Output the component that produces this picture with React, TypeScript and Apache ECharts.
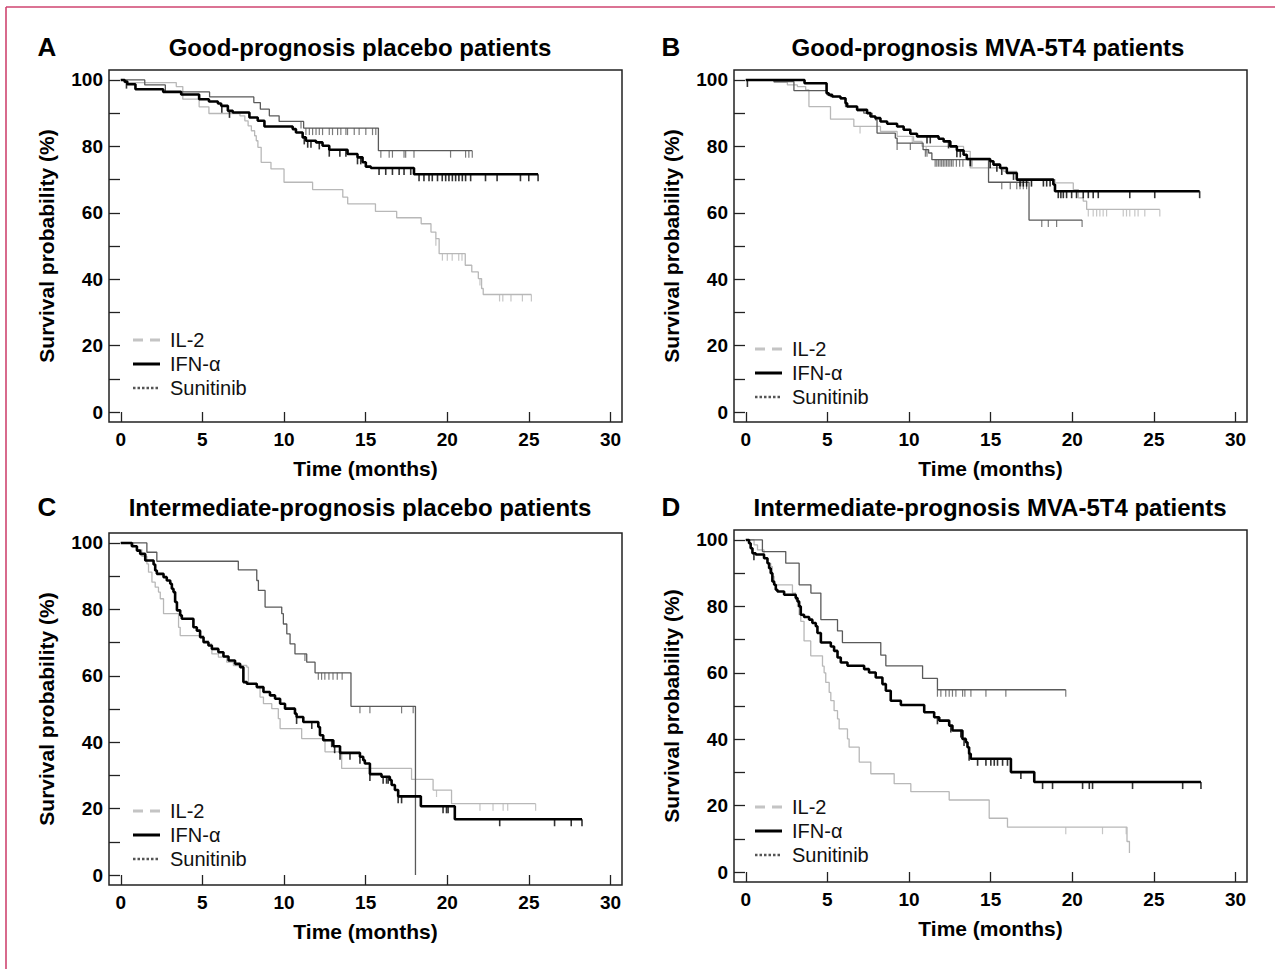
import React, { useEffect, useRef } from "react";
import * as echarts from "echarts";

// ---------- DATA (months, survival %) ----------
const xTicks = [0, 5, 10, 15, 20, 25, 30];
const yTicks = [0, 10, 20, 30, 40, 50, 60, 70, 80, 90, 100];
const yLabels = [0, 20, 40, 60, 80, 100];
const seriesNames = ["IL-2", "IFN-α", "Sunitinib"];
const panelLetters = ["A", "B", "C", "D"];
const panelTitles = [
  "Good-prognosis placebo patients",
  "Good-prognosis MVA-5T4 patients",
  "Intermediate-prognosis placebo patients",
  "Intermediate-prognosis MVA-5T4 patients",
];

// Panel A
const aIL2 = [[0,100],[0.2,99.2],[3.4,98],[3.8,94.2],[4.8,91.9],[5.4,89.9],[7.3,89.2],[7.6,87.7],[7.8,86.2],[8.0,84.7],[8.2,83.2],[8.3,81.7],[8.4,79.7],[8.6,75.2],[9.2,73.2],[10.0,69.2],[11.75,67],[13.6,64.7],[13.9,62.7],[15.6,60.4],[16.9,58.5],[18.4,56.7],[19.0,54.2],[19.3,52.2],[19.5,47.7],[21.1,44.2],[21.5,42.2],[21.9,40.2],[22.1,37.2],[22.2,35.4],[25.15,35.4]];
const aIL2Cens = [19.3, 19.7, 20.0, 20.3, 20.7, 20.9, 22.0, 23.2, 23.4, 23.9, 24.6, 25.15];
const aIFN = [[0,100],[0.24,99.5],[0.4,98.7],[0.9,97.2],[2.6,96.4],[3.7,95.6],[4.8,94.2],[5.4,93.5],[5.95,92.9],[6.15,92.2],[6.56,90.7],[6.86,90.2],[7.88,88.7],[8.39,87.7],[8.8,86],[10.53,85.2],[10.73,84.2],[11.14,82.7],[11.34,81.7],[11.96,81.2],[12.36,80.2],[12.77,79],[13.89,77.7],[14.5,76.7],[14.81,75.2],[15.01,73.9],[15.32,73.5],[17.96,71.6],[25.56,71.6]];
const aIFNCens = [0.35, 6.19, 6.66, 11.24, 11.45, 11.65, 12.16, 12.77, 13.42, 13.79, 14.5, 14.7, 15.82, 16.23, 16.64, 17.05, 17.35, 17.76, 18.27, 18.57, 18.88, 19.08, 19.4, 19.69, 19.9, 20.1, 20.31, 20.51, 20.71, 20.92, 21.12, 21.43, 22.34, 23.05, 24.48, 24.99, 25.56];
const aSun = [[0,100],[1.47,98.5],[2.73,96.4],[5.44,94.9],[8.15,93.2],[8.55,91.2],[9.1,89.2],[9.7,87.5],[11.2,85.5],[15.78,78.7],[21.53,78.7]];
const aSunCens = [11.04, 11.34, 11.55, 11.75, 11.96, 12.16, 12.36, 12.77, 12.97, 13.28, 13.48, 13.79, 13.89, 14.3, 14.6, 15.01, 15.42, 15.62, 15.93, 16.44, 16.64, 17.35, 17.45, 17.96, 20.2, 21.12, 21.32, 21.53];

// Panel B
const bIL2 = [[0,100],[1.73,99.3],[2.55,98.5],[3.16,98],[3.67,97],[3.87,92],[5.19,88.2],[6.62,86],[8.25,84.5],[9.27,83],[10.28,81.5],[10.8,80],[13.34,78.5],[13.75,73.5],[15.8,72.5],[16.6,70],[18.94,69],[20.06,67],[20.37,64.5],[20.67,63.5],[20.88,61],[25.36,61]];
const bIL2Cens = [7.0, 10.2, 11.05, 16.9, 17.2, 17.5, 20.98, 21.28, 21.49, 21.69, 21.89, 22.1, 23.12, 23.32, 23.52, 23.83, 24.03, 24.44, 25.36];
const bIFN = [[0,100],[3.6,99],[4.95,96],[5.09,95.5],[5.3,95],[5.8,94.5],[6.11,93],[6.21,92],[6.82,91],[7.43,90],[7.64,89],[7.94,88.5],[8.25,87.5],[8.66,86.8],[9.27,86],[9.67,85],[10.08,83.8],[10.49,83],[11.81,82.3],[12.12,81.5],[12.53,80],[12.93,78.8],[13.34,77.5],[13.54,76.2],[14.97,75.5],[15.17,74.5],[15.58,73.5],[15.99,72],[16.6,70],[18.84,68.5],[18.94,66.5],[27.8,66.5]];
const bIFNCens = [0.1, 11.1, 11.3, 12.42, 12.93, 13.14, 13.75, 14.97, 15.38, 15.68, 16.4, 16.8, 17.0, 17.2, 17.5, 18.23, 18.43, 18.64, 19.14, 19.3, 19.45, 19.65, 19.96, 20.26, 20.67, 20.98, 21.28, 21.59, 23.52, 25.05, 27.8];
const bSun = [[0,100],[1.73,99.5],[2.95,96.8],[4.99,95.5],[5.19,95],[5.8,94.3],[6.11,92],[6.82,90.8],[7.23,90],[7.74,89],[7.94,88],[8.04,84],[9.16,82.5],[9.27,81],[10.86,79],[11.2,78],[11.4,76],[14.87,69.2],[17.35,57.8],[20.6,57.8]];
const bSunCens = [9.27, 10.08, 11.0, 11.1, 11.6, 11.7, 11.8, 11.9, 12.0, 12.1, 12.2, 12.3, 12.4, 12.5, 12.6, 12.7, 12.9, 13.1, 13.3, 13.75, 13.85, 15.68, 16.2, 16.6, 16.8, 17.0, 17.2, 18.13, 18.53, 19.04, 20.6];

// Panel C
const cIL2 = [[0,100],[0.79,99],[0.99,98],[1.29,96],[1.6,93.7],[1.7,91.2],[1.91,88.2],[2.11,86.7],[2.31,85.2],[2.42,83.2],[2.62,78.7],[3.54,74.6],[3.64,72.1],[5.07,70.6],[5.37,69.6],[5.58,66.6],[5.98,65.6],[6.49,64.1],[6.9,63.1],[7.72,62.6],[7.82,57.6],[8.33,56.6],[8.53,53.6],[8.74,51.6],[9.25,50.1],[9.65,47.1],[9.76,44.1],[11.08,41.1],[12.51,37.1],[13.53,32.1],[17.81,28.8],[19.13,25.6],[20.26,21.5],[25.41,21.5]];
const cIL2Cens = [19.34, 22.0, 22.8, 23.42, 23.7, 25.41];
const cIFN = [[0,100],[0.68,99],[0.99,97.7],[1.19,96.7],[1.5,94.7],[2.01,93.5],[2.11,91.7],[2.21,90.7],[2.62,89.7],[2.82,88.7],[3.03,87.7],[3.13,86.2],[3.23,85.2],[3.33,82.2],[3.44,79.7],[3.64,78.2],[3.74,77.2],[4.45,74.6],[4.66,73.6],[4.86,71.6],[5.07,70.1],[5.37,69.1],[5.58,68.1],[5.98,67.1],[6.29,65.8],[6.6,64.6],[7.0,63.6],[7.31,62.6],[7.51,58.1],[7.72,57.6],[8.33,56.6],[8.74,55.1],[9.14,54.1],[9.45,53.1],[9.76,51.6],[10.06,50.1],[10.67,48.6],[10.77,47.6],[11.18,46.1],[12.1,44.6],[12.2,42.1],[12.4,40.6],[13.02,38.8],[13.43,36.8],[14.65,35.6],[14.85,34.6],[14.95,33.6],[15.26,30.4],[15.97,29.6],[16.48,28.6],[16.59,27.1],[16.79,25.6],[16.99,23.7],[18.38,20.7],[20.46,16.8],[28.25,16.8]];
const cIFNCens = [10.77, 11.7, 12.92, 13.1, 13.43, 14.04, 14.65, 15.26, 16.07, 16.28, 16.38, 16.99, 17.2, 19.74, 19.95, 20.05, 23.21, 26.57, 27.59, 28.25];
const cSun = [[0,100],[1.6,97.2],[2.21,94.5],[7.2,91.9],[8.33,88.7],[8.43,85.7],[8.84,80.7],[9.86,78.7],[9.96,75.6],[10.17,72.6],[10.37,69.6],[10.67,66.6],[11.39,64.1],[11.9,60.9],[14.1,50.8],[18.05,0]];
const cSunCens = [11.28, 12.1, 12.3, 12.5, 12.75, 13.0, 13.26, 13.56, 14.65, 15.26, 17.2, 17.91];

// Panel D
const dIL2 = [[0,100],[0.51,98.5],[0.72,97],[1.12,94.5],[1.33,93],[1.53,92],[1.63,89],[1.74,86.5],[2.86,84],[3.06,82],[3.17,80],[3.27,77.5],[3.37,75.5],[3.57,69.6],[3.98,65.1],[4.7,62],[4.8,60],[4.9,57.1],[5.11,54.1],[5.21,51.6],[5.41,48.6],[5.62,46.1],[5.72,43.1],[6.23,40.1],[6.33,37.6],[6.95,33.1],[7.66,29.6],[9.09,26.6],[10.11,24.2],[12.46,21.7],[14.91,16.2],[16.03,13.5],[23.35,9.2],[23.5,5.7]];
const dIL2Cens = [19.6, 21.85, 23.3];
const dIFN = [[0,100],[0.2,99],[0.3,97.5],[0.41,96],[0.61,95.6],[1.12,94.5],[1.33,93],[1.43,91.5],[1.53,90],[1.63,87.5],[1.74,86.5],[1.84,85],[1.94,84.5],[2.35,83.5],[3.06,82.5],[3.17,81.5],[3.27,80],[3.37,77.5],[3.57,76.8],[3.88,76],[4.08,75],[4.29,74],[4.39,72],[4.6,69.1],[5.21,67.9],[5.41,66.6],[5.62,64.6],[5.82,63.1],[6.23,62.1],[7.25,61.1],[7.55,60.1],[7.96,58.6],[8.37,56.6],[8.58,54.6],[8.88,51.6],[9.5,50.3],[10.93,48.1],[11.54,46.6],[11.85,45.6],[12.46,44.1],[12.66,42.6],[13.27,40.1],[13.48,39.1],[13.58,37.6],[13.68,35.6],[13.78,34.1],[16.24,30.1],[17.67,27.1],[27.88,27.1]];
const dIFNCens = [0.5, 11.74, 12.56, 13.17, 13.37, 13.68, 14.2, 14.71, 15.01, 15.22, 15.42, 15.73, 16.03, 16.85, 18.18, 18.79, 20.63, 21.04, 21.24, 23.69, 26.76, 27.88];
const dSun = [[0,100],[1.02,96.5],[2.45,93],[3.27,86.5],[3.99,84],[4.6,76],[5.62,72.6],[5.92,69.1],[8.27,65.3],[8.58,62.1],[10.83,58.3],[11.74,54.9],[19.6,54.9]];
const dSunCens = [11.74, 11.95, 12.25, 12.46, 12.66, 12.87, 13.28, 13.42, 13.79, 14.71, 15.93, 19.6];

const curves = [
  { il2: aIL2, il2c: aIL2Cens, ifn: aIFN, ifnc: aIFNCens, sun: aSun, sunc: aSunCens },
  { il2: bIL2, il2c: bIL2Cens, ifn: bIFN, ifnc: bIFNCens, sun: bSun, sunc: bSunCens },
  { il2: cIL2, il2c: cIL2Cens, ifn: cIFN, ifnc: cIFNCens, sun: cSun, sunc: cSunCens },
  { il2: dIL2, il2c: dIL2Cens, ifn: dIFN, ifnc: dIFNCens, sun: dSun, sunc: dSunCens },
];

// ---------- LAYOUT / STYLE ----------
const FONT = "'Liberation Sans', Arial, Helvetica, sans-serif";
const GRID_W = 513;
const GRID_H = 352;
const layouts = [
  { left: 109, top: 70, titleX: 360, letterX: 47, titleY: 35, legendY: 340, legendX: 133 },
  { left: 734, top: 70, titleX: 988, letterX: 671, titleY: 35, legendY: 349, legendX: 755 },
  { left: 109, top: 533, titleX: 360, letterX: 47, titleY: 495, legendY: 811, legendX: 133 },
  { left: 734, top: 530, titleX: 990, letterX: 671, titleY: 495, legendY: 807, legendX: 755 },
];
const COLORS = { il2: "#b8b8b8", ifn: "#000000", sun: "#5a5a5a" };

function survAt(steps: number[][], t: number) {
  let v = steps[0][1];
  for (const [x, y] of steps) if (x <= t) v = y;
  return v;
}

function buildOption() {
  const grid: any[] = [];
  const xAxis: any[] = [];
  const yAxis: any[] = [];
  const series: any[] = [];
  const title: any[] = [];
  const graphic: any[] = [];

  layouts.forEach((l, i) => {
    grid.push({
      left: l.left, top: l.top, width: GRID_W, height: GRID_H,
      show: true, borderColor: "#222", borderWidth: 1.5, backgroundColor: "transparent",
    });
    xAxis.push({
      type: "value", gridIndex: i, min: -0.72, max: 30.7, position: "bottom",
      axisLine: { show: false, onZero: false }, splitLine: { show: false },
      axisTick: { show: true, inside: true, length: 10, customValues: xTicks, lineStyle: { color: "#222", width: 1.3 } },
      axisLabel: { customValues: xTicks, margin: 8, fontSize: 19, fontWeight: "bold", color: "#000", fontFamily: FONT },
      name: "Time (months)", nameLocation: "middle", nameGap: 36,
      nameTextStyle: { fontSize: 21, fontWeight: "bold", color: "#000", fontFamily: FONT },
    });
    yAxis.push({
      type: "value", gridIndex: i, min: -3, max: 103, position: "left",
      axisLine: { show: false, onZero: false }, splitLine: { show: false },
      axisTick: { show: true, inside: true, length: 11, customValues: yTicks, lineStyle: { color: "#222", width: 1.3 } },
      axisLabel: { customValues: yLabels, margin: 6, fontSize: 19, fontWeight: "bold", color: "#000", fontFamily: FONT },
      name: "Survival probability (%)", nameLocation: "middle", nameGap: 52,
      nameTextStyle: { fontSize: 21, fontWeight: "bold", color: "#000", fontFamily: FONT },
    });

    const c = curves[i];
    const defs = [
      { name: seriesNames[0], steps: c.il2, cens: c.il2c, color: COLORS.il2, width: 1.3, z: 2 },
      { name: seriesNames[2], steps: c.sun, cens: c.sunc, color: COLORS.sun, width: 1.3, z: 3 },
      { name: seriesNames[1], steps: c.ifn, cens: c.ifnc, color: COLORS.ifn, width: 2.6, z: 4 },
    ];
    defs.forEach((d) => {
      series.push({
        type: "line", name: d.name, xAxisIndex: i, yAxisIndex: i, data: d.steps,
        step: "end", symbol: "none", showSymbol: false, silent: true, z: d.z,
        lineStyle: { color: d.color, width: d.width },
      });
      series.push({
        type: "scatter", name: d.name + " censored", xAxisIndex: i, yAxisIndex: i,
        data: d.cens.map((t) => [t, survAt(d.steps, t)]),
        symbol: "rect", symbolSize: [d.width > 2 ? 1.6 : 1.2, 7], symbolOffset: [0, 3.5],
        itemStyle: { color: d.color }, silent: true, z: d.z,
      });
    });

    title.push({
      text: panelTitles[i], left: l.titleX, top: l.titleY, textAlign: "center", padding: 0,
      textStyle: { fontSize: 24, fontWeight: "bold", color: "#000", fontFamily: FONT },
    });
    title.push({
      text: panelLetters[i], left: l.letterX, top: l.titleY - 1, textAlign: "center", padding: 0,
      textStyle: { fontSize: 26, fontWeight: "bold", color: "#000", fontFamily: FONT },
    });

    // legend (drawn)
    const lx = l.legendX;
    const ly = l.legendY;
    const items = [
      { text: seriesNames[0], stroke: "#c4c4c4", width: 3, dash: [10, 7] },
      { text: seriesNames[1], stroke: "#000", width: 3, dash: null },
      { text: seriesNames[2], stroke: "#555", width: 2.5, dash: [2.5, 2] },
    ];
    items.forEach((it, k) => {
      const y = ly + k * 24;
      graphic.push({
        type: "line", silent: true,
        shape: { x1: lx, y1: y, x2: lx + 27, y2: y },
        style: { stroke: it.stroke, lineWidth: it.width, lineDash: it.dash || undefined },
      });
      graphic.push({
        type: "text", silent: true, x: lx + 37, y,
        style: { text: it.text, fontSize: 20, fontFamily: FONT, fill: "#111", verticalAlign: "middle", align: "left" },
      });
    });
  });

  // page border
  graphic.push({ type: "line", silent: true, shape: { x1: 6, y1: 7, x2: 1275, y2: 7 }, style: { stroke: "#cf4570", lineWidth: 1.6 } });
  graphic.push({ type: "line", silent: true, shape: { x1: 6, y1: 7, x2: 6, y2: 969 }, style: { stroke: "#cf4570", lineWidth: 1.6 } });

  return {
    animation: false,
    backgroundColor: "#ffffff",
    textStyle: { fontFamily: FONT },
    title, grid, xAxis, yAxis, series, graphic,
  };
}

export default function App() {
  const ref = useRef<HTMLDivElement>(null);
  useEffect(() => {
    if (!ref.current) return;
    const chart = echarts.init(ref.current, undefined, { renderer: "svg" });
    chart.setOption(buildOption() as any);
    return () => chart.dispose();
  }, []);
  return (
    <div
      ref={ref}
      style={{ position: "absolute", left: 0, top: 0, width: 1275, height: 969, background: "#fff" }}
    />
  );
}
